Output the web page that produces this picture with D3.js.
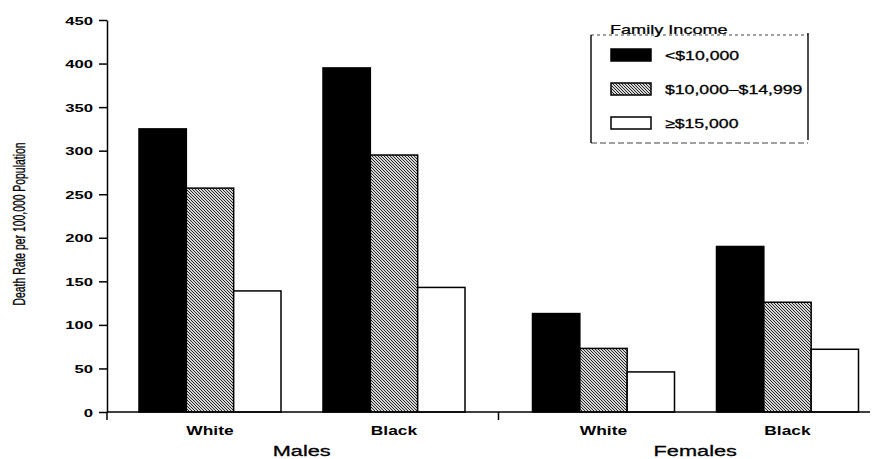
<!DOCTYPE html>
<html>
<head>
<meta charset="utf-8">
<script src="https://cdn.jsdelivr.net/npm/d3@7/dist/d3.min.js"></script>
<style>
  html, body { margin: 0; padding: 0; background: #fff; }
  svg { display: block; }
  text { font-family: "Liberation Sans", Arial, Helvetica, sans-serif; fill: #000; }
</style>
</head>
<body>
<svg id="chart" width="881" height="459"></svg>
<script>
// ---- data ----
const sexes = ["Males", "Females"];
const races = ["White", "Black"];
const incomes = ["<$10,000", "$10,000\u2013$14,999", "\u2265$15,000"];
const yTicks = [0, 50, 100, 150, 200, 250, 300, 350, 400, 450];
// rates per income level for each sex/race
const malesWhite = [325, 257, 139];
const malesBlack = [395, 295, 143];
const femalesWhite = [113, 73, 46];
const femalesBlack = [190, 126, 72];
const yTitle = "Death Rate per 100,000 Population";
const legendTitle = "Family Income";

const groups = [
  { sex: "Males", race: "White", values: malesWhite },
  { sex: "Males", race: "Black", values: malesBlack },
  { sex: "Females", race: "White", values: femalesWhite },
  { sex: "Females", race: "Black", values: femalesBlack }
];

// ---- layout ----
const svg = d3.select("#chart");
const axisX = 107, baseY = 412, topY = 20, axisEnd = 870;
const SX = 1.45; // horizontal stretch of the scanned lettering

const y = d3.scaleLinear().domain([0, 450]).range([baseY, topY]);
const sexScale = d3.scaleBand().domain(sexes).range([105, 892]);
const raceScale = d3.scaleBand().domain(races).range([13, 381]);
const incScale = d3.scaleBand().domain(incomes).range([21, 163]);

// hatch pattern
const defs = svg.append("defs");
const pat = defs.append("pattern").attr("id", "hatch")
  .attr("patternUnits", "userSpaceOnUse").attr("width", 3).attr("height", 3);
pat.append("rect").attr("width", 3).attr("height", 3).attr("fill", "#d6d6d6");
pat.append("path").attr("d", "M-1,-1 L4,4 M2,-1 L4,1 M-1,2 L1,4")
  .attr("stroke", "#262626").attr("stroke-width", 1);

const fills = ["#000", "url(#hatch)", "#fff"];

// bars
const gBars = svg.append("g");
groups.forEach(gr => {
  const gx = sexScale(gr.sex) + raceScale(gr.race);
  gBars.selectAll(null).data(gr.values.map((v, i) => ({ v, inc: incomes[i], i })))
    .enter().append("rect")
    .attr("x", d => gx + incScale(d.inc))
    .attr("y", d => y(d.v))
    .attr("width", incScale.bandwidth())
    .attr("height", d => baseY - y(d.v))
    .attr("fill", d => fills[d.i])
    .attr("stroke", "#000")
    .attr("stroke-width", 1.5);
});

// y axis
const yAxis = svg.append("g").attr("transform", `translate(${axisX},0)`)
  .call(d3.axisLeft(y).tickValues(yTicks).tickSize(8).tickSizeOuter(0).tickPadding(6));
yAxis.select(".domain").attr("stroke", "#000").attr("stroke-width", 1.5);
yAxis.selectAll(".tick line").attr("stroke", "#000").attr("stroke-width", 1.5);
yAxis.selectAll(".tick text")
  .attr("font-family", "Liberation Sans, Arial, sans-serif")
  .attr("font-size", 11.5).attr("font-weight", "bold").attr("fill", "#000")
  .attr("x", null).attr("dy", "0.35em")
  .attr("transform", `translate(-14,0) scale(${SX},1)`)
  .attr("text-anchor", "end");
// axis extends slightly below zero
svg.append("line").attr("x1", axisX).attr("x2", axisX)
  .attr("y1", baseY).attr("y2", baseY + 8).attr("stroke", "#000").attr("stroke-width", 1.5);

// x axis baseline and group divider tick
svg.append("line").attr("x1", axisX).attr("x2", axisEnd)
  .attr("y1", baseY).attr("y2", baseY).attr("stroke", "#000").attr("stroke-width", 1.5);
svg.append("line")
  .attr("x1", sexScale("Females")).attr("x2", sexScale("Females"))
  .attr("y1", baseY).attr("y2", baseY + 8).attr("stroke", "#000").attr("stroke-width", 1.5);

// category labels
groups.forEach(gr => {
  const cx = sexScale(gr.sex) + raceScale(gr.race) + raceScale.bandwidth() / 2;
  svg.append("text")
    .attr("transform", `translate(${cx},${baseY + 23}) scale(${SX},1)`)
    .attr("text-anchor", "middle").attr("font-size", 12).attr("font-weight", "bold")
    .text(gr.race);
});
sexes.forEach(s => {
  const cx = sexScale(s) + sexScale.bandwidth() / 2;
  svg.append("text")
    .attr("transform", `translate(${cx},${baseY + 44}) scale(${SX},1)`)
    .attr("text-anchor", "middle").attr("font-size", 15)
    .attr("stroke", "#000").attr("stroke-width", 0.3)
    .text(s);
});

// y title
svg.append("text")
  .attr("transform", `translate(25,224) rotate(-90)`)
  .attr("text-anchor", "middle").attr("font-size", 17)
  .attr("textLength", 163).attr("lengthAdjust", "spacingAndGlyphs")
  .attr("stroke", "#000").attr("stroke-width", 0.3)
  .text(yTitle);

// legend
const lg = svg.append("g").attr("transform", "translate(591,35)");
const lgW = 217, lgH = 108;
lg.append("line").attr("x1", 0).attr("x2", lgW).attr("y1", 0).attr("y2", 0)
  .attr("stroke", "#444").attr("stroke-width", 1.2).attr("stroke-dasharray", "3,3");
lg.append("line").attr("x1", 0).attr("x2", lgW).attr("y1", lgH).attr("y2", lgH)
  .attr("stroke", "#444").attr("stroke-width", 1.2).attr("stroke-dasharray", "6,3");
lg.append("line").attr("x1", 0).attr("x2", 0).attr("y1", 0).attr("y2", lgH)
  .attr("stroke", "#000").attr("stroke-width", 1.4);
lg.append("line").attr("x1", lgW).attr("x2", lgW).attr("y1", -2).attr("y2", lgH - 3)
  .attr("stroke", "#000").attr("stroke-width", 1.4);
lg.append("text")
  .attr("transform", `translate(19,-1) scale(${SX},1)`)
  .attr("font-size", 12.5).attr("stroke", "#000").attr("stroke-width", 0.25)
  .text(legendTitle);
const rowY = d3.scalePoint().domain(incomes).range([14, 82]);
incomes.forEach((inc, i) => {
  lg.append("rect").attr("x", 20).attr("y", rowY(inc)).attr("width", 40).attr("height", 12)
    .attr("fill", fills[i]).attr("stroke", "#000").attr("stroke-width", 1.5);
  lg.append("text")
    .attr("transform", `translate(74,${rowY(inc) + 11}) scale(1.38,1)`)
    .attr("font-size", 12.8).attr("stroke", "#000").attr("stroke-width", 0.3)
    .text(inc);
});
</script>
</body>
</html>
